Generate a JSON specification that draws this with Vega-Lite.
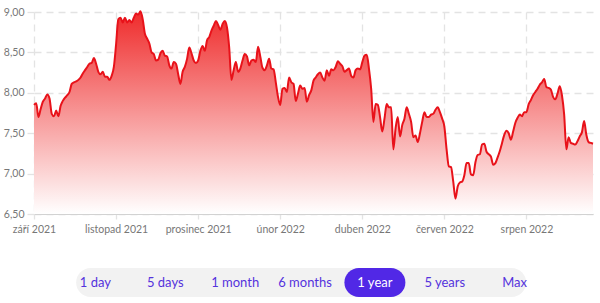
{
  "$schema": "https://vega.github.io/schema/vega-lite/v6.json",
  "background": "white",
  "padding": {"left": 3, "top": 7, "right": 8, "bottom": 0},
  "center": true,
  "spacing": 33,
  "config": {"font": "Lato", "view": {"stroke": null}},
  "vconcat": [
    {
      "width": 559,
      "height": 202,
      "data": {"values": [
        {"d":0,"close":7.85},{"d":1,"close":7.87},{"d":2,"close":7.70},{"d":3,"close":7.80},{"d":4,"close":7.89},{"d":5,"close":7.93},{"d":6,"close":7.98},{"d":7,"close":7.93},{"d":8,"close":7.74},{"d":9,"close":7.71},
        {"d":10,"close":7.78},{"d":11,"close":7.71},{"d":12,"close":7.84},{"d":13,"close":7.90},{"d":14,"close":7.94},{"d":15,"close":7.97},{"d":16,"close":8.01},{"d":17,"close":8.11},{"d":18,"close":8.13},{"d":19,"close":8.14},
        {"d":20,"close":8.16},{"d":21,"close":8.19},{"d":22,"close":8.24},{"d":23,"close":8.28},{"d":24,"close":8.32},{"d":25,"close":8.36},{"d":26,"close":8.37},{"d":27,"close":8.43},{"d":28,"close":8.36},{"d":29,"close":8.26},
        {"d":30,"close":8.23},{"d":31,"close":8.26},{"d":32,"close":8.20},{"d":33,"close":8.20},{"d":34,"close":8.16},{"d":35,"close":8.21},{"d":36,"close":8.32},{"d":37,"close":8.60},{"d":38,"close":8.91},{"d":39,"close":8.93},
        {"d":40,"close":8.87},{"d":41,"close":8.93},{"d":42,"close":8.87},{"d":43,"close":8.90},{"d":44,"close":8.87},{"d":45,"close":8.93},{"d":46,"close":8.98},{"d":47,"close":8.97},{"d":48,"close":9.01},{"d":49,"close":8.91},
        {"d":50,"close":8.73},{"d":51,"close":8.67},{"d":52,"close":8.61},{"d":53,"close":8.50},{"d":54,"close":8.48},{"d":55,"close":8.40},{"d":56,"close":8.41},{"d":57,"close":8.49},{"d":58,"close":8.52},{"d":59,"close":8.46},
        {"d":60,"close":8.45},{"d":61,"close":8.34},{"d":62,"close":8.30},{"d":63,"close":8.38},{"d":64,"close":8.36},{"d":65,"close":8.23},{"d":66,"close":8.11},{"d":67,"close":8.26},{"d":68,"close":8.32},{"d":69,"close":8.42},
        {"d":70,"close":8.56},{"d":71,"close":8.49},{"d":72,"close":8.40},{"d":73,"close":8.37},{"d":74,"close":8.40},{"d":75,"close":8.52},{"d":76,"close":8.58},{"d":77,"close":8.52},{"d":78,"close":8.65},{"d":79,"close":8.69},
        {"d":80,"close":8.77},{"d":81,"close":8.83},{"d":82,"close":8.89},{"d":83,"close":8.84},{"d":84,"close":8.78},{"d":85,"close":8.85},{"d":86,"close":8.89},{"d":87,"close":8.81},{"d":88,"close":8.56},{"d":89,"close":8.16},
        {"d":90,"close":8.28},{"d":91,"close":8.38},{"d":92,"close":8.26},{"d":93,"close":8.30},{"d":94,"close":8.40},{"d":95,"close":8.48},{"d":96,"close":8.45},{"d":97,"close":8.34},{"d":98,"close":8.40},{"d":99,"close":8.41},
        {"d":100,"close":8.38},{"d":101,"close":8.57},{"d":102,"close":8.45},{"d":103,"close":8.31},{"d":104,"close":8.28},{"d":105,"close":8.34},{"d":106,"close":8.42},{"d":107,"close":8.30},{"d":108,"close":8.29},{"d":109,"close":8.13},
        {"d":110,"close":7.95},{"d":111,"close":7.85},{"d":112,"close":8.05},{"d":113,"close":8.06},{"d":114,"close":8.01},{"d":115,"close":8.19},{"d":116,"close":8.13},{"d":117,"close":8.11},{"d":118,"close":7.90},{"d":119,"close":7.99},
        {"d":120,"close":8.09},{"d":121,"close":8.05},{"d":122,"close":8.06},{"d":123,"close":7.89},{"d":124,"close":7.97},{"d":125,"close":8.03},{"d":126,"close":8.15},{"d":127,"close":8.19},{"d":128,"close":8.23},{"d":129,"close":8.25},
        {"d":130,"close":8.19},{"d":131,"close":8.15},{"d":132,"close":8.28},{"d":133,"close":8.21},{"d":134,"close":8.29},{"d":135,"close":8.28},{"d":136,"close":8.32},{"d":137,"close":8.39},{"d":138,"close":8.36},{"d":139,"close":8.33},
        {"d":140,"close":8.26},{"d":141,"close":8.28},{"d":142,"close":8.30},{"d":143,"close":8.21},{"d":144,"close":8.19},{"d":145,"close":8.28},{"d":146,"close":8.30},{"d":147,"close":8.29},{"d":148,"close":8.38},{"d":149,"close":8.46},
        {"d":150,"close":8.47},{"d":151,"close":8.30},{"d":152,"close":8.05},{"d":153,"close":7.64},{"d":154,"close":7.86},{"d":155,"close":7.85},{"d":156,"close":7.70},{"d":157,"close":7.52},{"d":158,"close":7.68},{"d":159,"close":7.86},
        {"d":160,"close":7.82},{"d":161,"close":7.82},{"d":162,"close":7.30},{"d":163,"close":7.56},{"d":164,"close":7.70},{"d":165,"close":7.46},{"d":166,"close":7.60},{"d":167,"close":7.68},{"d":168,"close":7.82},{"d":169,"close":7.74},
        {"d":170,"close":7.64},{"d":171,"close":7.45},{"d":172,"close":7.47},{"d":173,"close":7.39},{"d":174,"close":7.50},{"d":175,"close":7.64},{"d":176,"close":7.76},{"d":177,"close":7.70},{"d":178,"close":7.70},{"d":179,"close":7.73},
        {"d":180,"close":7.74},{"d":181,"close":7.79},{"d":182,"close":7.82},{"d":183,"close":7.76},{"d":184,"close":7.68},{"d":185,"close":7.58},{"d":186,"close":7.30},{"d":187,"close":7.09},{"d":188,"close":7.08},{"d":189,"close":6.90},
        {"d":190,"close":6.69},{"d":191,"close":6.84},{"d":192,"close":6.89},{"d":193,"close":6.90},{"d":194,"close":6.98},{"d":195,"close":7.13},{"d":196,"close":7.13},{"d":197,"close":6.99},{"d":198,"close":6.98},{"d":199,"close":7.14},
        {"d":200,"close":7.23},{"d":201,"close":7.24},{"d":202,"close":7.36},{"d":203,"close":7.37},{"d":204,"close":7.27},{"d":205,"close":7.24},{"d":206,"close":7.21},{"d":207,"close":7.11},{"d":208,"close":7.13},{"d":209,"close":7.20},
        {"d":210,"close":7.28},{"d":211,"close":7.38},{"d":212,"close":7.48},{"d":213,"close":7.53},{"d":214,"close":7.50},{"d":215,"close":7.42},{"d":216,"close":7.52},{"d":217,"close":7.63},{"d":218,"close":7.69},{"d":219,"close":7.73},
        {"d":220,"close":7.71},{"d":221,"close":7.76},{"d":222,"close":7.76},{"d":223,"close":7.86},{"d":224,"close":7.91},{"d":225,"close":7.97},{"d":226,"close":8.01},{"d":227,"close":8.05},{"d":228,"close":8.10},{"d":229,"close":8.13},
        {"d":230,"close":8.17},{"d":231,"close":8.07},{"d":232,"close":8.06},{"d":233,"close":8.04},{"d":234,"close":7.95},{"d":235,"close":7.92},{"d":236,"close":7.99},{"d":237,"close":8.08},{"d":238,"close":7.97},{"d":239,"close":7.73},
        {"d":240,"close":7.30},{"d":241,"close":7.45},{"d":242,"close":7.38},{"d":243,"close":7.37},{"d":244,"close":7.36},{"d":245,"close":7.40},{"d":246,"close":7.46},{"d":247,"close":7.51},{"d":248,"close":7.65},{"d":249,"close":7.48},
        {"d":250,"close":7.39},{"d":251,"close":7.38},{"d":252,"close":7.37}
      ]},
      "encoding": {
        "x": {
          "field": "d", "type": "quantitative", "title": null,
          "scale": {"domain": [0, 252], "nice": false, "zero": false},
          "axis": {
            "values": [0, 37, 74, 111, 148, 185, 222],
            "labelExpr": "['září 2021','listopad 2021','prosinec 2021','únor 2022','duben 2022','červen 2022','srpen 2022'][round(datum.value/37)]",
            "grid": true, "gridColor": "#e3e3e3", "gridDash": [7, 5], "gridWidth": 1.3,
            "ticks": true, "tickColor": "#e3e3e3", "tickDash": [7, 5], "tickSize": 5, "tickWidth": 1.3,
            "domain": true, "domainColor": "#d2d2d2", "domainWidth": 1,
            "labelColor": "#777777", "labelFontSize": 10.5, "labelPadding": 5, "labelFlush": false
          }
        },
        "y": {
          "field": "close", "type": "quantitative", "title": null,
          "scale": {"domain": [6.5, 9], "nice": false, "zero": false},
          "axis": {
            "values": [6.5, 7, 7.5, 8, 8.5, 9],
            "labelExpr": "replace(format(datum.value, '.2f'), '.', ',')",
            "grid": true, "gridColor": "#e3e3e3", "gridDash": [7, 5], "gridWidth": 1.3,
            "ticks": true, "tickColor": "#e3e3e3", "tickDash": [7, 5], "tickSize": 7, "tickWidth": 1.3,
            "domain": false,
            "labelColor": "#777777", "labelFontSize": 10.5, "labelPadding": 3
          }
        }
      },
      "layer": [
        {
          "mark": {
            "type": "area", "interpolate": "monotone",
            "color": {
              "gradient": "linear", "x1": 1, "y1": 0, "x2": 1, "y2": 1,
              "stops": [{"offset": 0, "color": "#ef2b2b"}, {"offset": 1, "color": "#ffffff"}]
            }
          },
          "encoding": {"y2": {"datum": 6.5}}
        },
        {
          "mark": {"type": "line", "interpolate": "monotone", "color": "#e8121a", "strokeWidth": 2}
        }
      ]
    },
    {
      "width": 559,
      "height": 29,
      "data": {"values": [
        {"label": "1 day", "active": false},
        {"label": "5 days", "active": false},
        {"label": "1 month", "active": false},
        {"label": "6 months", "active": false},
        {"label": "1 year", "active": true},
        {"label": "5 years", "active": false},
        {"label": "Max", "active": false}
      ]},
      "encoding": {
        "x": {
          "field": "label", "type": "nominal", "axis": null,
          "scale": {
            "type": "point",
            "domain": ["1 day", "5 days", "1 month", "6 months", "1 year", "5 years", "Max"],
            "padding": 1.146, "align": 0.425
          }
        }
      },
      "layer": [
        {
          "transform": [{"filter": "datum.label === '6 months'"}],
          "mark": {"type": "bar", "width": 450, "cornerRadius": 14.5, "color": "#f2f2f2", "xOffset": -3.9}
        },
        {
          "mark": {"type": "bar", "width": 61, "cornerRadius": 14.5},
          "encoding": {
            "color": {"value": "#5128e6"},
            "opacity": {"condition": {"test": "datum.active", "value": 1}, "value": 0}
          }
        },
        {
          "mark": {"type": "text", "fontSize": 13, "font": "Lato"},
          "encoding": {
            "text": {"field": "label"},
            "color": {"condition": {"test": "datum.active", "value": "#ffffff"}, "value": "#5533dd"}
          }
        }
      ]
    }
  ]
}
